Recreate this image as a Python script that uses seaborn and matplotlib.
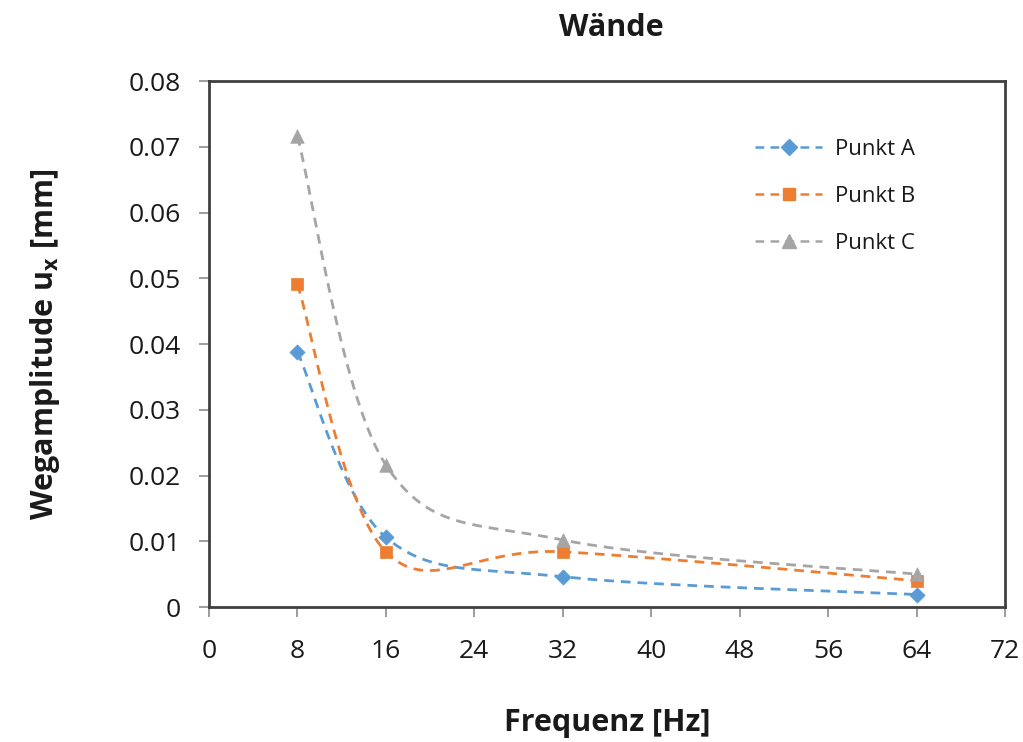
import numpy as np
import pandas as pd
import matplotlib
matplotlib.use("Agg")
import matplotlib.pyplot as plt
import seaborn as sns
from matplotlib.lines import Line2D

# ---- data ----
freq = [8, 16, 32, 64]
punkt_a = [0.0388, 0.0106, 0.0046, 0.0019]
punkt_b = [0.0491, 0.0084, 0.0084, 0.0040]
punkt_c = [0.0716, 0.0216, 0.0102, 0.0050]
series_names = ["Punkt A", "Punkt B", "Punkt C"]
x_ticks = [0, 8, 16, 24, 32, 40, 48, 56, 64, 72]
y_ticks = [0, 0.01, 0.02, 0.03, 0.04, 0.05, 0.06, 0.07, 0.08]

colors = ["#5B9BD5", "#ED7D31", "#A5A5A5"]
markers = ["D", "s", "^"]
msizes = [60, 85, 95]

sns.set_theme(style="white")
plt.rcParams["font.family"] = ["Open Sans", "DejaVu Sans"]
plt.rcParams["mathtext.fontset"] = "custom"
plt.rcParams["mathtext.rm"] = "Open Sans:bold"
plt.rcParams["mathtext.it"] = "Open Sans:bold"
plt.rcParams["mathtext.bf"] = "Open Sans:bold"


def smooth(xs, ys, n=60):
    """Excel-like smoothed line: Catmull-Rom Bezier segments through the points."""
    P = np.column_stack([xs, ys]).astype(float)
    out = []
    m = len(P)
    for i in range(m - 1):
        p0 = P[i - 1] if i > 0 else P[i]
        p1 = P[i]
        p2 = P[i + 1]
        p3 = P[i + 2] if i + 2 < m else P[i + 1]
        c1 = p1 + (p2 - p0) / 6.0
        c2 = p2 - (p3 - p1) / 6.0
        t = np.linspace(0, 1, n)[:, None]
        seg = ((1 - t) ** 3) * p1 + 3 * ((1 - t) ** 2) * t * c1 + 3 * (1 - t) * t ** 2 * c2 + t ** 3 * p2
        out.append(seg if i == 0 else seg[1:])
    return np.vstack(out)


fig = plt.figure(figsize=(10.23, 7.42), dpi=100)
ax = fig.add_axes([0.2043, 0.1819, 0.7781, 0.7089])

for name, ys, c, mk, ms in zip(series_names, [punkt_a, punkt_b, punkt_c], colors, markers, msizes):
    curve = smooth(freq, ys)
    dfc = pd.DataFrame({"x": curve[:, 0], "y": curve[:, 1]})
    sns.lineplot(data=dfc, x="x", y="y", ax=ax, sort=False, color=c, lw=2.0,
                 linestyle=(0, (3.5, 2.5)), estimator=None)
    dfp = pd.DataFrame({"x": freq, "y": ys})
    sns.scatterplot(data=dfp, x="x", y="y", ax=ax, marker=mk, s=ms, color=c,
                    edgecolor=c, linewidth=0.5, zorder=5)

ax.set_xlim(0, 72)
ax.set_ylim(0, 0.08)
ax.set_xticks(x_ticks)
ax.set_xticklabels([str(v) for v in x_ticks])
ax.set_yticks(y_ticks)
ax.set_yticklabels(["0"] + [f"{v:.2f}" for v in y_ticks[1:]])
ax.tick_params(axis="both", which="major", direction="out", length=7, width=1.2,
               color="#8c8c8c", labelsize=19, labelcolor="#1a1a1a",
               bottom=True, left=True)
ax.tick_params(axis="y", pad=13)
ax.tick_params(axis="x", pad=16)
for sp in ax.spines.values():
    sp.set_visible(True)
    sp.set_color("#404040")
    sp.set_linewidth(2.0)

ax.set_xlabel("Frequenz [Hz]", fontsize=22, fontweight="bold", color="#1a1a1a")
ax.set_ylabel(r"Wegamplitude u$_{\mathrm{x}}$ [mm]", fontsize=22, fontweight="bold",
              color="#1a1a1a")
ax.xaxis.set_label_coords(0.5, -0.2205)
ax.xaxis.label.set_va("center")
ax.yaxis.set_label_coords(-0.206, 0.5)
ax.yaxis.label.set_va("center")
ax.set_title("Wände", fontsize=22, fontweight="bold", color="#1a1a1a",
             x=0.506, y=1.1015, va="center", pad=0)

handles = [Line2D([0], [0], color=c, lw=1.8, linestyle=(0, (3.5, 2.5)), marker=mk,
                  markersize=ms_, markerfacecolor=c, markeredgecolor=c)
           for c, mk, ms_ in zip(colors, markers, [8, 9, 10])]
leg = ax.legend(handles, series_names, loc="upper left", bbox_to_anchor=(0.675, 0.907),
                borderaxespad=0, frameon=False, fontsize=16, labelspacing=1.17,
                handlelength=3.0, handletextpad=0.6)
for t in leg.get_texts():
    t.set_color("#1a1a1a")

fig.savefig("out.png", dpi=100)
